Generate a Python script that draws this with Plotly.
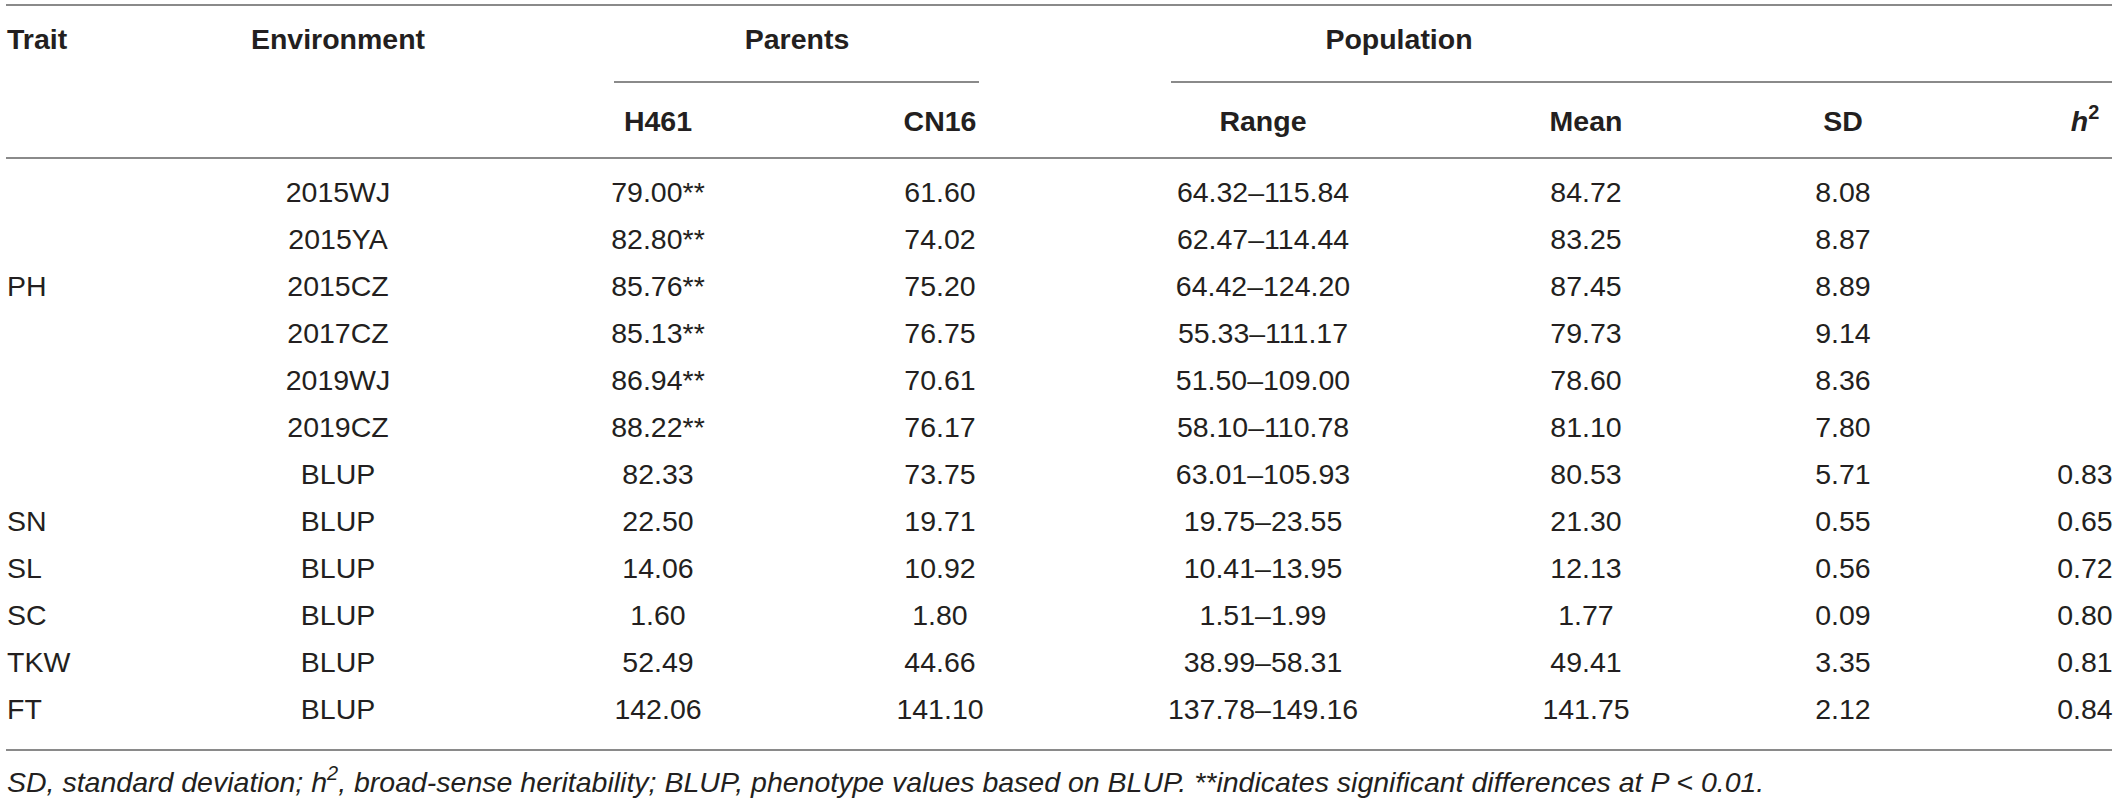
import plotly.graph_objects as go

# table contents
traits = ["", "", "PH", "", "", "", "", "SN", "SL", "SC", "TKW", "FT"]
environments = ["2015WJ", "2015YA", "2015CZ", "2017CZ", "2019WJ", "2019CZ",
                "BLUP", "BLUP", "BLUP", "BLUP", "BLUP", "BLUP"]
h461 = [79.00, 82.80, 85.76, 85.13, 86.94, 88.22, 82.33, 22.50, 14.06, 1.60, 52.49, 142.06]
h461_signif = [True, True, True, True, True, True, False, False, False, False, False, False]
cn16 = [61.60, 74.02, 75.20, 76.75, 70.61, 76.17, 73.75, 19.71, 10.92, 1.80, 44.66, 141.10]
range_low = [64.32, 62.47, 64.42, 55.33, 51.50, 58.10, 63.01, 19.75, 10.41, 1.51, 38.99, 137.78]
range_high = [115.84, 114.44, 124.20, 111.17, 109.00, 110.78, 105.93, 23.55, 13.95, 1.99, 58.31, 149.16]
pop_mean = [84.72, 83.25, 87.45, 79.73, 78.60, 81.10, 80.53, 21.30, 12.13, 1.77, 49.41, 141.75]
pop_sd = [8.08, 8.87, 8.89, 9.14, 8.36, 7.80, 5.71, 0.55, 0.56, 0.09, 3.35, 2.12]
heritability = [None, None, None, None, None, None, 0.83, 0.65, 0.72, 0.80, 0.81, 0.84]

group_headers = ["Trait", "Environment", "Parents", "Population"]
sub_headers = ["H461", "CN16", "Range", "Mean", "SD", "<i>h</i><sup>2</sup>"]
footnote = ("<i>SD, standard deviation; h<sup>2</sup>, broad-sense heritability; "
            "BLUP, phenotype values based on BLUP. **indicates significant "
            "differences at P &lt; 0.01.</i>")

W, H = 2118, 804
FONT = "Liberation Sans, Arial, Helvetica, sans-serif"
TXT = "#231f20"
LINE = "#8a8a8a"
SIZE = 28.5

row_y = [195 + 47 * i for i in range(len(environments))]


def fmt(v):
    return "" if v is None else f"{v:.2f}"


columns = [
    (7, "middle right", traits),
    (338, "middle center", environments),
    (658, "middle center", [fmt(v) + ("**" if s else "") for v, s in zip(h461, h461_signif)]),
    (940, "middle center", [fmt(v) for v in cn16]),
    (1263, "middle center", [f"{a:.2f}\u2013{b:.2f}" for a, b in zip(range_low, range_high)]),
    (1586, "middle center", [fmt(v) for v in pop_mean]),
    (1843, "middle center", [fmt(v) for v in pop_sd]),
    (2085, "middle center", [fmt(v) for v in heritability]),
]

fig = go.Figure()

for x, pos, texts in columns:
    # skip blank cells
    ys = [y for y, t in zip(row_y, texts) if t]
    ts = [t for t in texts if t]
    fig.add_trace(go.Scatter(
        x=[x] * len(ts), y=ys, text=ts, mode="text",
        textposition=pos, textfont=dict(family=FONT, size=SIZE, color=TXT),
        hoverinfo="skip", showlegend=False,
    ))

# header rows
fig.add_trace(go.Scatter(
    x=[7, 338, 797, 1399], y=[42] * 4,
    text=[f"<b>{t}</b>" for t in group_headers], mode="text",
    textposition=["middle right", "middle center", "middle center", "middle center"],
    textfont=dict(family=FONT, size=SIZE, color=TXT),
    hoverinfo="skip", showlegend=False,
))
fig.add_trace(go.Scatter(
    x=[658, 940, 1263, 1586, 1843, 2085], y=[124] * 6,
    text=[f"<b>{t}</b>" for t in sub_headers], mode="text",
    textposition="middle center",
    textfont=dict(family=FONT, size=SIZE, color=TXT),
    hoverinfo="skip", showlegend=False,
))

# footnote
fig.add_trace(go.Scatter(
    x=[7], y=[785], text=[footnote], mode="text", textposition="middle right",
    textfont=dict(family=FONT, size=28.5, color=TXT),
    hoverinfo="skip", showlegend=False,
))

# rules
rules = [(6, 2112, 5), (614, 979, 82), (1171, 2112, 82), (6, 2112, 158), (6, 2112, 750)]
for x0, x1, y in rules:
    fig.add_shape(type="line", x0=x0, x1=x1, y0=y, y1=y, xref="x", yref="y",
                  line=dict(color=LINE, width=2))

fig.update_layout(
    width=W, height=H,
    margin=dict(l=0, r=0, t=0, b=0),
    paper_bgcolor="white", plot_bgcolor="white",
    xaxis=dict(range=[0, W], visible=False, fixedrange=True),
    yaxis=dict(range=[H, 0], visible=False, fixedrange=True),
)

fig.write_html("out.html", config={"displayModeBar": False},
               post_script="document.body.style.margin='0';")
